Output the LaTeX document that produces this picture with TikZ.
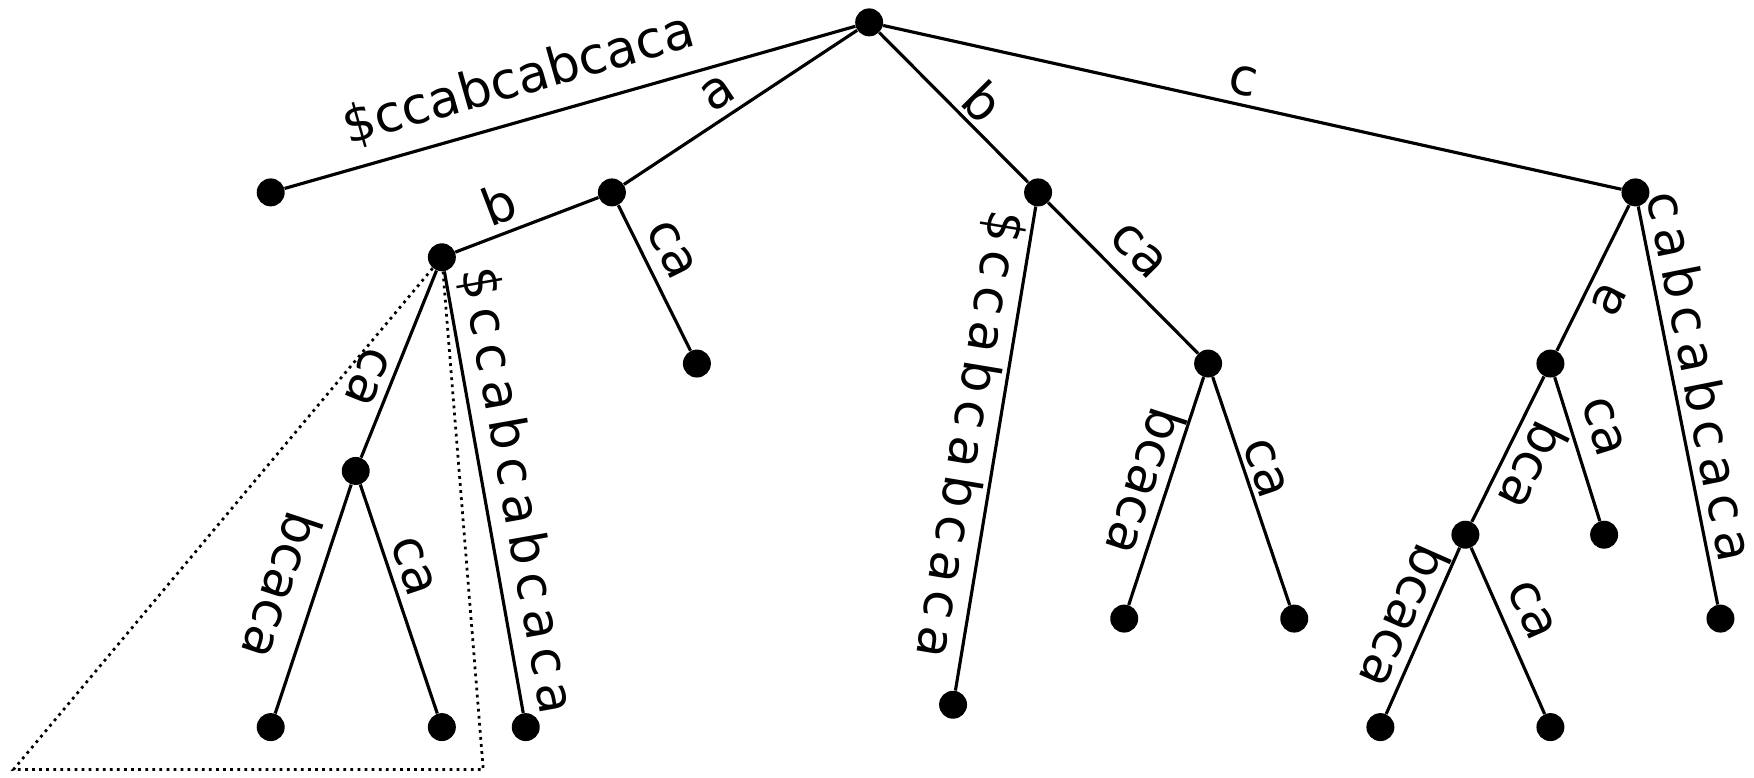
\documentclass[tikz,border=0pt]{standalone}
\usepackage{fontspec}
\newfontfamily\lblfont{DejaVu Sans}
\newfontfamily\widefont[LetterSpace=16]{DejaVu Sans}

\begin{document}
\begin{tikzpicture}[
    x=0.02cm, y=-0.02cm,
    every node/.style = {font=\lblfont\fontsize{26}{30}\selectfont},
    vertex/.style = {circle, fill, inner sep=0pt, minimum size=5mm},
    edge/.style   = {line width=1.6pt},
    dots/.style   = {line width=1.4pt, dash pattern=on 1.4pt off 2.2pt},
    lbl/.style    = {sloped, inner sep=4pt},
    flip/.style   = {sloped, allow upside down, inner sep=4pt},
    long/.style   = {font=\widefont\fontsize{26}{30}\selectfont}
  ]
  \useasboundingbox (0,0) rectangle (1568,695);

  % inner nodes
  \node[vertex] (root) at (777,20)  {};
  \node[vertex] (a)    at (547,172) {};
  \node[vertex] (ab)   at (395,230) {};
  \node[vertex] (abc)  at (318,421) {};
  \node[vertex] (b)    at (928,172) {};
  \node[vertex] (bc)   at (1080,325) {};
  \node[vertex] (c)    at (1462,172) {};
  \node[vertex] (ca)   at (1386,325) {};
  \node[vertex] (cab)  at (1310,478) {};
  % leaves
  \node[vertex] (l1)  at (242,172)  {};
  \node[vertex] (l2)  at (623,325)  {};
  \node[vertex] (l3)  at (242,650)  {};
  \node[vertex] (l4)  at (395,650)  {};
  \node[vertex] (l5)  at (470,650)  {};
  \node[vertex] (l6)  at (852,630)  {};
  \node[vertex] (l7)  at (1005,553) {};
  \node[vertex] (l8)  at (1157,553) {};
  \node[vertex] (l9)  at (1434,478) {};
  \node[vertex] (l10) at (1234,650) {};
  \node[vertex] (l11) at (1386,650) {};
  \node[vertex] (l12) at (1538,553) {};

  % edges
  \draw[edge] (root) -- node[lbl,pos=.57,above,inner sep=8pt]{\$ccabcabcaca} (l1);
  \draw[edge] (root) -- node[lbl,pos=.54,above]{a} (a);
  \draw[edge] (root) -- node[lbl,pos=.58,above,inner sep=2pt]{b} (b);
  \draw[edge] (root) -- node[lbl,pos=.48,above]{c} (c);
  \draw[edge] (a) -- node[lbl,pos=.62,above]{b} (ab);
  \draw[edge] (a) -- node[lbl,pos=.39,above,inner sep=6pt]{ca} (l2);
  \draw[edge] (ab) -- node[flip,pos=.62,below]{ca} (abc);
  \draw[edge] (ab) -- node[lbl,long,pos=.51,above]{\$ccabcabcaca} (l5);
  \draw[edge] (abc) -- node[flip,pos=.49,below,inner sep=6pt]{bcaca} (l3);
  \draw[edge] (abc) -- node[lbl,pos=.39,above]{ca} (l4);
  \draw[edge] (b) -- node[flip,long,pos=.48,below,inner sep=2pt]{\$ccabcabcaca} (l6);
  \draw[edge] (b) -- node[lbl,pos=.46,above,inner sep=7pt]{ca} (bc);
  \draw[edge] (bc) -- node[flip,pos=.49,below,inner sep=0pt]{bcaca} (l7);
  \draw[edge] (bc) -- node[lbl,pos=.43,above,inner sep=2pt]{ca} (l8);
  \draw[edge] (c) -- node[lbl,pos=.57,below]{a} (ca);
  \draw[edge] (c) -- node[lbl,long,pos=.44,above]{cabcabcaca} (l12);
  \draw[edge] (ca) -- node[flip,pos=.53,above,inner sep=5pt]{bca} (cab);
  \draw[edge] (ca) -- node[lbl,pos=.41,above,inner sep=8pt]{ca} (l9);
  \draw[edge] (cab) -- node[flip,pos=.47,below,inner sep=0pt]{bcaca} (l10);
  \draw[edge] (cab) -- node[lbl,pos=.45,above,inner sep=7pt]{ca} (l11);

  % dotted subtree
  \coordinate (tl) at (12,688);
  \coordinate (tr) at (432,688);
  \draw[dots] (ab) -- (tl) -- (tr) -- (ab);
\end{tikzpicture}
\end{document}
